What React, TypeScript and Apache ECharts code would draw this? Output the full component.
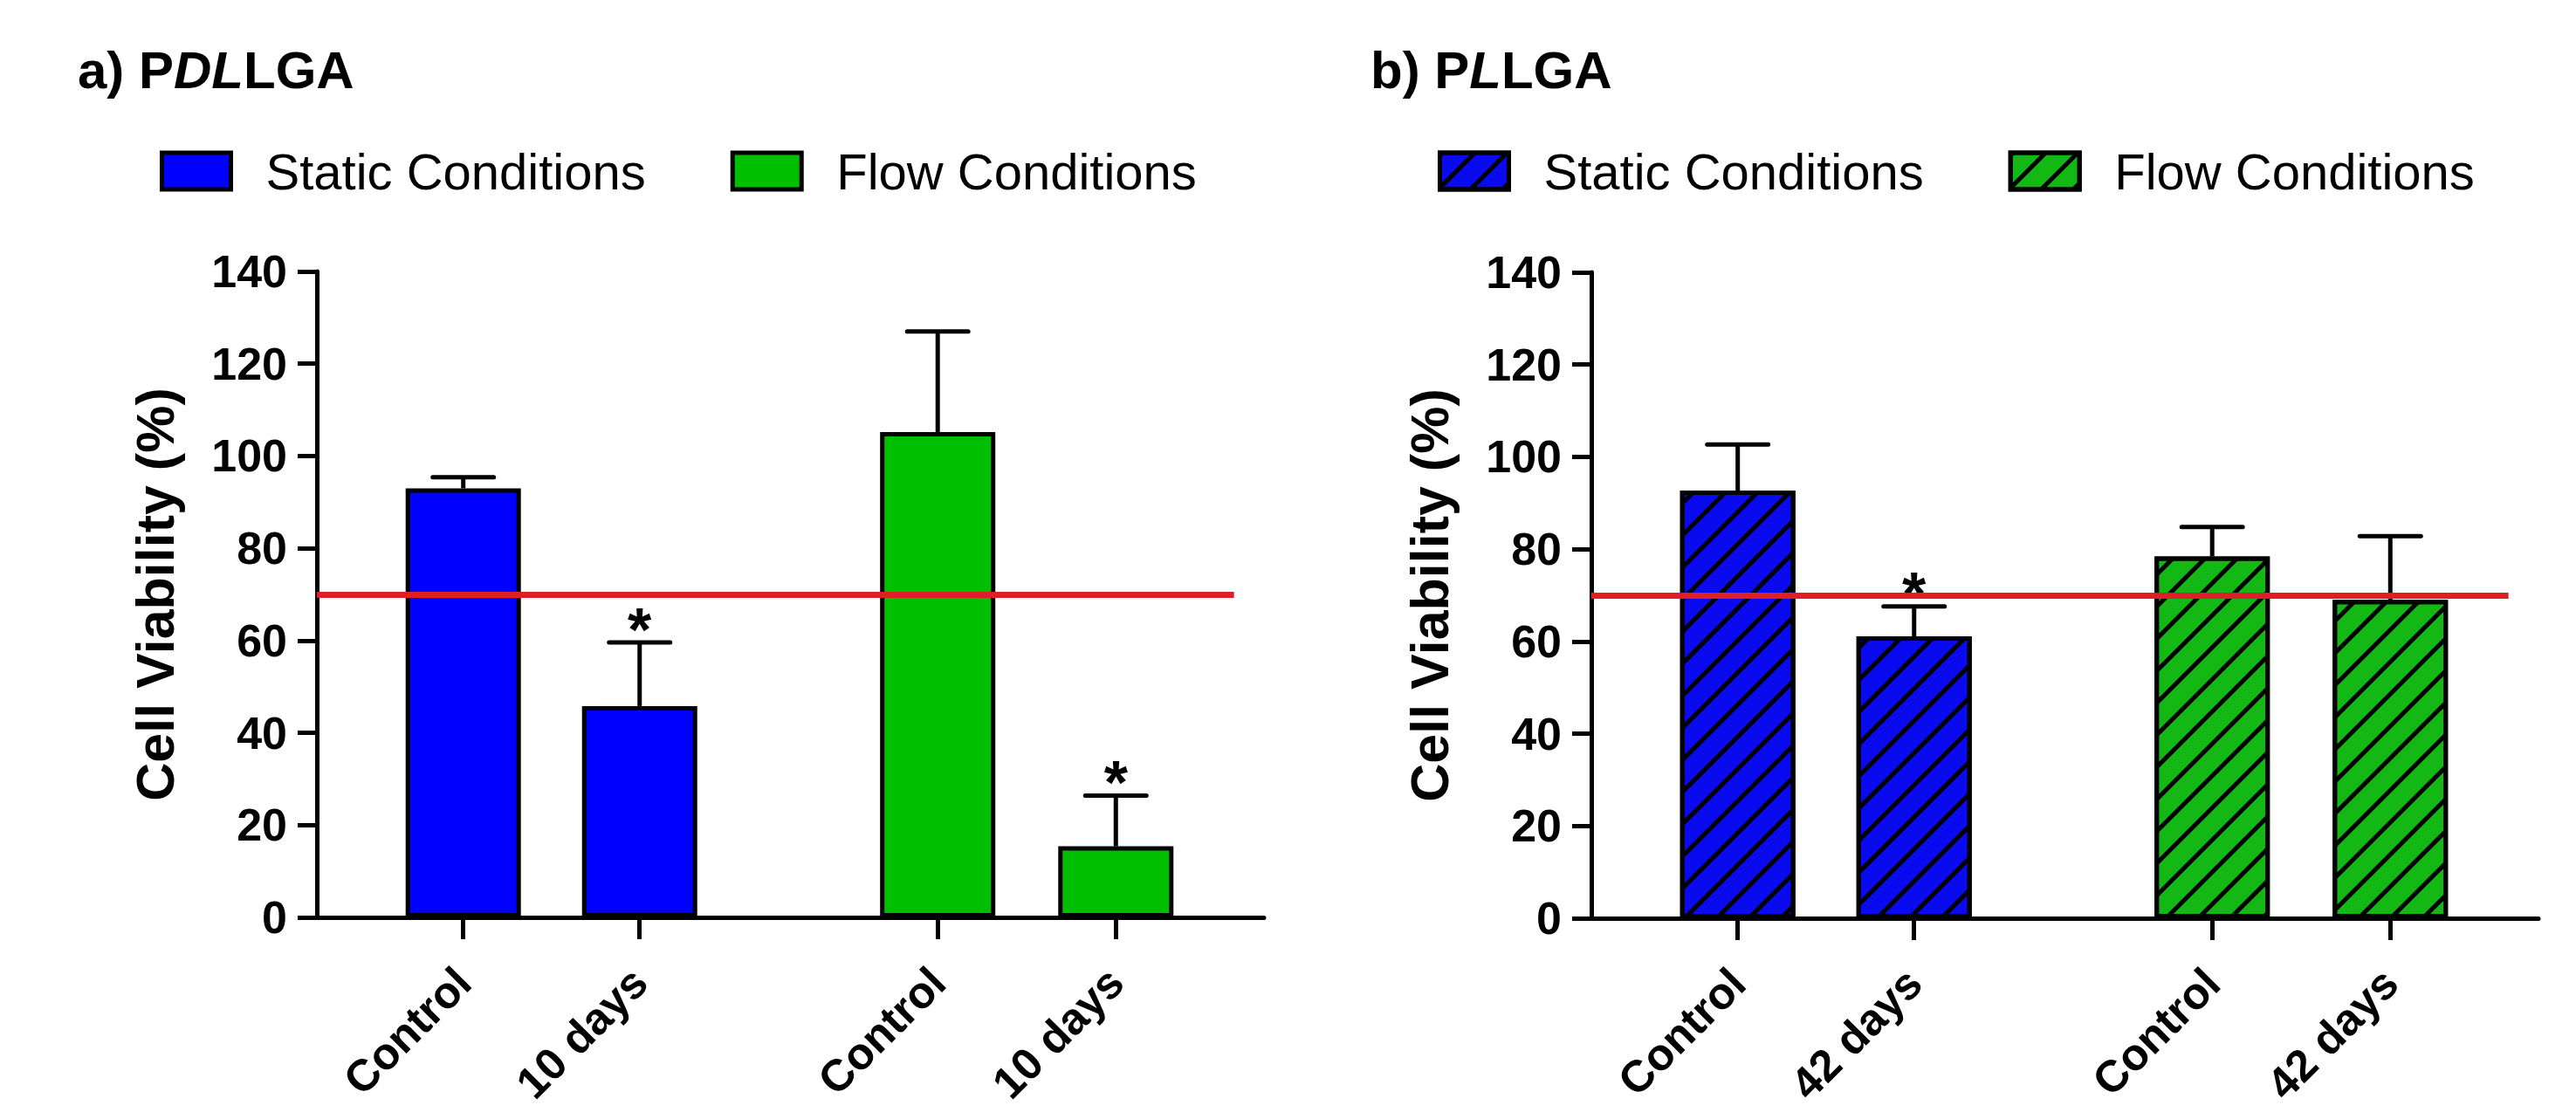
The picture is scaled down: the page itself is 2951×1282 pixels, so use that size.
import React, { useEffect, useRef } from 'react';
import * as echarts from 'echarts';

// ---------- data ----------
const categoriesA = ['Control', '10 days', 'Control', '10 days'];
const categoriesB = ['Control', '42 days', 'Control', '42 days'];
const legendNames = ['Static Conditions', 'Flow Conditions'];

const staticMeansA = [93.0, 45.8];
const staticErrA = [2.4, 13.8];
const flowMeansA = [105.2, 15.4];
const flowErrA = [21.8, 11.0];
const significantA = [false, true, false, true];

const staticMeansB = [92.7, 61.1];
const staticErrB = [10.0, 6.5];
const flowMeansB = [78.4, 69.0];
const flowErrB = [6.4, 13.8];
const significantB = [false, true, false, false];

const thresholdValue = 70;
const yMin = 0;
const yMax = 140;
const yInterval = 20;

// ---------- layout ----------
const SLOT = [0.83, 1.83, 3.52, 4.53];
const X_MAX = 5.37;
const RED_END = 5.2;
const FONT = "'Liberation Sans', Arial, Helvetica, sans-serif";
const BLUE_A = '#0000FF';
const GREEN_A = '#00BF00';
const BLUE_B = '#0A0AEE';
const GREEN_B = '#14B814';
const RED = '#DD1F26';

const hatch = {
  symbol: 'rect',
  symbolSize: 1,
  color: '#000',
  dashArrayX: [1, 0],
  dashArrayY: [5, 21],
  rotation: -Math.PI / 4,
};

function buildPanel(idx: number, prefix: string, cats: string[], sMeans: number[], sErr: number[], fMeans: number[], fErr: number[], sig: boolean[], blue: string, green: string, hatched: boolean) {
  const barStyle = (color: string) => {
    const st: any = { color, borderColor: '#000', borderWidth: 5 };
    if (hatched) st.decal = hatch;
    return st;
  };
  const staticData = sMeans.map((v, i) => [SLOT[i], v]);
  const flowData = fMeans.map((v, i) => [SLOT[i + 2], v]);
  const allMeans = [...sMeans, ...fMeans];
  const allErr = [...sErr, ...fErr];
  const errData = SLOT.map((x, i) => [x, allMeans[i], allErr[i], sig[i] ? 1 : 0]);

  const series: any[] = [
    {
      type: 'bar', name: prefix + legendNames[0], xAxisIndex: idx, yAxisIndex: idx,
      data: staticData, barWidth: 132, barGap: '-100%', itemStyle: barStyle(blue), z: 2,
    },
    {
      type: 'bar', name: prefix + legendNames[1], xAxisIndex: idx, yAxisIndex: idx,
      data: flowData, barWidth: 132, barGap: '-100%', itemStyle: barStyle(green), z: 2,
    },
    {
      type: 'custom', xAxisIndex: idx, yAxisIndex: idx, z: 4, silent: true,
      data: errData,
      renderItem: (params: any, api: any) => {
        const x = api.value(0), m = api.value(1), e = api.value(2), s = api.value(3);
        const p0 = api.coord([x, m]);
        const p1 = api.coord([x, m + e]);
        const children: any[] = [
          { type: 'line', shape: { x1: p0[0], y1: p0[1], x2: p1[0], y2: p1[1] }, style: { stroke: '#000', lineWidth: 5 } },
          { type: 'line', shape: { x1: p1[0] - 35, y1: p1[1], x2: p1[0] + 35, y2: p1[1] }, style: { stroke: '#000', lineWidth: 5, lineCap: 'round' } },
        ];
        if (s) {
          children.push({
            type: 'text', x: p1[0], y: p1[1] - 14,
            style: { text: '*', fontSize: 70, fontWeight: 'bold', fontFamily: FONT, fill: '#000', align: 'center', verticalAlign: 'middle' },
          });
        }
        return { type: 'group', children };
      },
      markLine: {
        silent: true, symbol: ['none', 'none'], label: { show: false }, z: 6,
        lineStyle: { color: RED, width: 7, type: 'solid' },
        data: [[{ coord: [0, thresholdValue] }, { coord: [RED_END, thresholdValue] }]],
      },
    },
  ];

  const xAxis = {
    type: 'value', gridIndex: idx, min: 0, max: X_MAX,
    axisLine: { show: true, onZero: false, lineStyle: { color: '#000', width: 5 } },
    axisTick: { show: true, customValues: SLOT, length: 25, lineStyle: { color: '#000', width: 5 } },
    axisLabel: {
      show: true, customValues: SLOT, rotate: 45, margin: 66,
      formatter: (v: number) => {
        let best = 0;
        SLOT.forEach((s, i) => { if (Math.abs(s - v) < Math.abs(SLOT[best] - v)) best = i; });
        return cats[best];
      },
      fontSize: 51, fontWeight: 'bold', color: '#000', fontFamily: FONT,
    },
    splitLine: { show: false },
  };

  const yAxis = {
    type: 'value', gridIndex: idx, min: yMin, max: yMax, interval: yInterval,
    name: 'Cell Viability (%)', nameLocation: 'middle', nameRotate: 90, nameGap: 155,
    nameTextStyle: { fontSize: 61, fontWeight: 'bold', fontFamily: FONT, color: '#000' },
    axisLine: { show: true, lineStyle: { color: '#000', width: 5 } },
    axisTick: { show: true, length: 22, lineStyle: { color: '#000', width: 5 } },
    axisLabel: { fontSize: 52, fontWeight: 'bold', color: '#000', margin: 34, fontFamily: FONT },
    splitLine: { show: false },
  };

  const legend = {
    left: idx === 0 ? 183 : 1647, top: 167, padding: 0,
    data: legendNames.map((n) => prefix + n),
    formatter: (n: string) => n.split('|')[1],
    icon: 'rect', itemWidth: 79, itemHeight: 42, itemGap: 97, selectedMode: false,
    itemStyle: { borderColor: '#000', borderWidth: 5 },
    textStyle: { fontFamily: FONT, fontSize: 58, color: '#000', lineHeight: 58, padding: [0, 0, 0, 35] },
  };

  return { series, xAxis, yAxis, legend };
}

export default function App() {
  const ref = useRef<HTMLDivElement>(null);
  useEffect(() => {
    document.body.style.margin = '0';
    if (!ref.current) return;
    const chart = echarts.init(ref.current, null, { renderer: 'svg' });
    const a = buildPanel(0, 'A|', categoriesA, staticMeansA, staticErrA, flowMeansA, flowErrA, significantA, BLUE_A, GREEN_A, false);
    const b = buildPanel(1, 'B|', categoriesB, staticMeansB, staticErrB, flowMeansB, flowErrB, significantB, BLUE_B, GREEN_B, true);
    const titleRich = {
      n: { fontSize: 60, fontWeight: 'bold', fontFamily: FONT, color: '#000' },
      i: { fontSize: 60, fontWeight: 'bold', fontStyle: 'italic', fontFamily: FONT, color: '#000' },
    };
    chart.setOption({
      animation: false,
      backgroundColor: '#fff',
      title: [
        { text: '{n|a) P}{i|DL}{n|LGA}', left: 89, top: 50, padding: 0, textStyle: { fontSize: 60, fontFamily: FONT, rich: titleRich } },
        { text: '{n|b) P}{i|L}{n|LGA}', left: 1570, top: 50, padding: 0, textStyle: { fontSize: 60, fontFamily: FONT, rich: titleRich } },
      ],
      grid: [
        { left: 363, top: 311, width: 1085, height: 740, outerBoundsMode: 'none', containLabel: false },
        { left: 1823, top: 312, width: 1085, height: 740, outerBoundsMode: 'none', containLabel: false },
      ],
      legend: [a.legend, b.legend],
      xAxis: [a.xAxis, b.xAxis],
      yAxis: [a.yAxis, b.yAxis],
      series: [...a.series, ...b.series],
    });
    return () => chart.dispose();
  }, []);
  return <div ref={ref} style={{ width: 2951, height: 1282 }} />;
}
